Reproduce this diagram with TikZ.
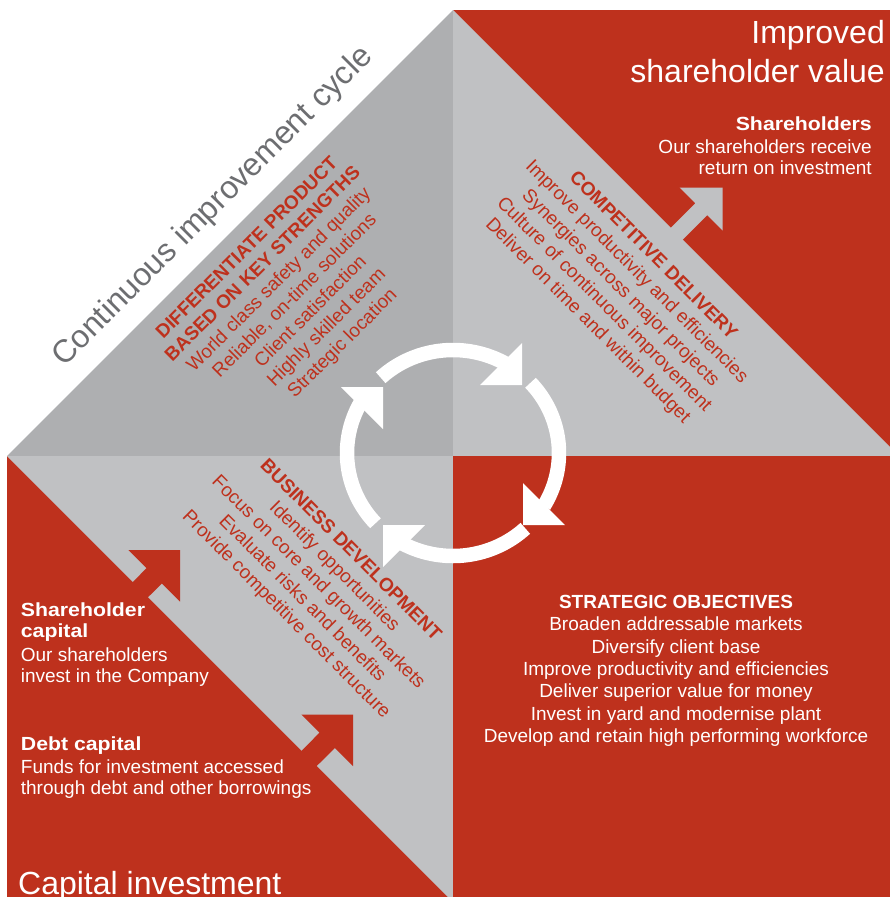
\documentclass[tikz,border=0pt]{standalone}
\usepackage{fontspec}
\setmainfont{Liberation Sans}
\newfontfamily\heavyfont{Liberation Sans}[FakeStretch=1.12]
\usetikzlibrary{calc}
\definecolor{brick}{RGB}{190,49,29}
\definecolor{greydark}{RGB}{174,175,177}
\definecolor{greylight}{RGB}{192,193,195}
\definecolor{slate}{RGB}{109,110,113}
\tikzset{
  body/.style={font=\fontsize{19}{22.5}\selectfont, inner sep=0pt},
  bodyhead/.style={font=\bfseries\fontsize{19}{22.5}\selectfont, inner sep=0pt},
  heavyhead/.style={font=\heavyfont\bfseries\fontsize{19}{22.5}\selectfont, inner sep=0pt},
  bigtitle/.style={font=\fontsize{32}{38}\selectfont, inner sep=0pt},
  ringseg/.style={draw=white, line width=14.5pt, line cap=butt},
  ringhead/.style={fill=white},
}
\begin{document}
\begin{tikzpicture}[x=1pt,y=-1pt]
\useasboundingbox (0,0) rectangle (890,897);
\clip (0,0) rectangle (890,897);
\fill[white] (0,0) rectangle (890,897);

% quadrant backgrounds
\fill[greydark] (7,456) -- (453,10) -- (453,456) -- cycle;
\fill[brick] (453,10) rectangle (899,456);
\fill[greylight] (453,10) -- (899,456) -- (453,456) -- cycle;
\fill[brick] (7,456) rectangle (453,902);
\fill[greylight] (7,456) -- (453,456) -- (453,902) -- cycle;
\fill[brick] (453,456) rectangle (899,902);

% capital inflow arrows
\fill[brick] (180,550) -- (180,601.6) -- (161.84,583.44) -- (138.1,607.1)
  -- (122.9,591.9) -- (146.56,568.16) -- (128.4,550) -- cycle;
\fill[brick] (353,714.5) -- (353,766.1) -- (334.84,747.94) -- (306.5,776.2)
  -- (291.3,761.0) -- (319.56,732.66) -- (301.4,714.5) -- cycle;
% return arrow
\fill[greylight] (722.7,187.7) -- (722.7,230.7) -- (707.14,215.14) -- (667.14,255.14)
  -- (655.26,243.26) -- (695.26,203.26) -- (679.7,187.7) -- cycle;

% headings of the three outer corners
\node[bigtitle, text=slate, rotate=45, anchor=base] (tcycle) at (219,213) {Continuous improvement cycle};
\node[bigtitle, text=white, anchor=base east] (tval1) at (885,43.3) {Improved};
\node[bigtitle, text=white, anchor=base east] (tval2) at (885,82) {shareholder value};
\node[bigtitle, text=white, anchor=base west] (tcap) at (18,894) {Capital investment};

% shareholders (top right)
\node[heavyhead, text=white, anchor=base east] (sh0) at (872,130.5) {Shareholders};
\node[body, text=white, anchor=base east] (sh1) at (872,153) {Our shareholders receive};
\node[body, text=white, anchor=base east] (sh2) at (872,174.5) {return on investment};

% capital sources (bottom left)
\node[heavyhead, text=white, anchor=base west] (sc0) at (20.7,616) {Shareholder};
\node[heavyhead, text=white, anchor=base west] (sc1) at (20.7,637.7) {capital};
\node[body, text=white, anchor=base west] (sc2) at (20.7,661) {Our shareholders};
\node[body, text=white, anchor=base west] (sc3) at (20.7,682.3) {invest in the Company};
\node[heavyhead, text=white, anchor=base west] (dc0) at (20.7,750.7) {Debt capital};
\node[body, text=white, anchor=base west] (dc1) at (20.7,773.3) {Funds for investment accessed};
\node[body, text=white, anchor=base west] (dc2) at (20.7,794.5) {through debt and other borrowings};

% strategic objectives (bottom right)
\node[bodyhead, text=white, anchor=base] (so0) at (676,608.3) {STRATEGIC OBJECTIVES};
\node[body, text=white, anchor=base] (so1) at (676,630.7) {Broaden addressable markets};
\node[body, text=white, anchor=base] (so2) at (676,653.1) {Diversify client base};
\node[body, text=white, anchor=base] (so3) at (676,675.5) {Improve productivity and efficiencies};
\node[body, text=white, anchor=base] (so4) at (676,697.9) {Deliver superior value for money};
\node[body, text=white, anchor=base] (so5) at (676,720.3) {Invest in yard and modernise plant};
\node[body, text=white, anchor=base] (so6) at (676,742.7) {Develop and retain high performing workforce};

% differentiate product (top left)
\node[bodyhead, text=brick, rotate=45, anchor=base] (dp0) at (251,252) {DIFFERENTIATE PRODUCT};
\node[bodyhead, text=brick, rotate=45, anchor=base] (dp1) at (266.9,267.9) {BASED ON KEY STRENGTHS};
\node[body, text=brick, rotate=45, anchor=base] (dp2) at (282.8,283.8) {World class safety and quality};
\node[body, text=brick, rotate=45, anchor=base] (dp3) at (298.7,299.7) {Reliable, on-time solutions};
\node[body, text=brick, rotate=45, anchor=base] (dp4) at (314.6,315.6) {Client satisfaction};
\node[body, text=brick, rotate=45, anchor=base] (dp5) at (330.5,331.5) {Highly skilled team};
\node[body, text=brick, rotate=45, anchor=base] (dp6) at (346.4,347.4) {Strategic location};

% competitive delivery (top right)
\node[bodyhead, text=brick, rotate=-45, anchor=base] (cd0) at (649.3,259.4) {COMPETITIVE DELIVERY};
\node[body, text=brick, rotate=-45, anchor=base] (cd1) at (633,275.7) {Improve productivity and efficiencies};
\node[body, text=brick, rotate=-45, anchor=base] (cd2) at (616.7,292) {Synergies across major projects};
\node[body, text=brick, rotate=-45, anchor=base] (cd3) at (600.4,308.3) {Culture of continuous improvement};
\node[body, text=brick, rotate=-45, anchor=base] (cd4) at (584.1,324.6) {Deliver on time and within budget};

% business development (bottom left)
\node[bodyhead, text=brick, rotate=-45, anchor=base] (bd0) at (346.7,554.2) {BUSINESS DEVELOPMENT};
\node[body, text=brick, rotate=-45, anchor=base] (bd1) at (330.6,570.3) {Identify opportunities};
\node[body, text=brick, rotate=-45, anchor=base] (bd2) at (314.6,586.3) {Focus on core and growth markets};
\node[body, text=brick, rotate=-45, anchor=base] (bd3) at (298.5,602.4) {Evaluate risks and benefits};
\node[body, text=brick, rotate=-45, anchor=base] (bd4) at (282.5,618.4) {Provide competitive cost structure};

% improvement cycle ring
\draw[ringseg] plot[domain=227:300, samples=40] ({453+106*cos(\x)},{453+103*sin(\x)});
\draw[ringseg] plot[domain=317:391, samples=40] ({453+106*cos(\x)},{453+103*sin(\x)});
\draw[ringseg] plot[domain=47:120, samples=40] ({453+106*cos(\x)},{453+103*sin(\x)});
\draw[ringseg] plot[domain=137:210, samples=40] ({453+106*cos(\x)},{453+103*sin(\x)});
\fill[ringhead] (383,387) -- (341,387) -- (383,429) -- cycle;
\fill[ringhead] (522,385) -- (480,385) -- (522,343) -- cycle;
\fill[ringhead] (523,525) -- (565,525) -- (523,483) -- cycle;
\fill[ringhead] (383,525) -- (425,525) -- (383,567) -- cycle;
\end{tikzpicture}
\end{document}
